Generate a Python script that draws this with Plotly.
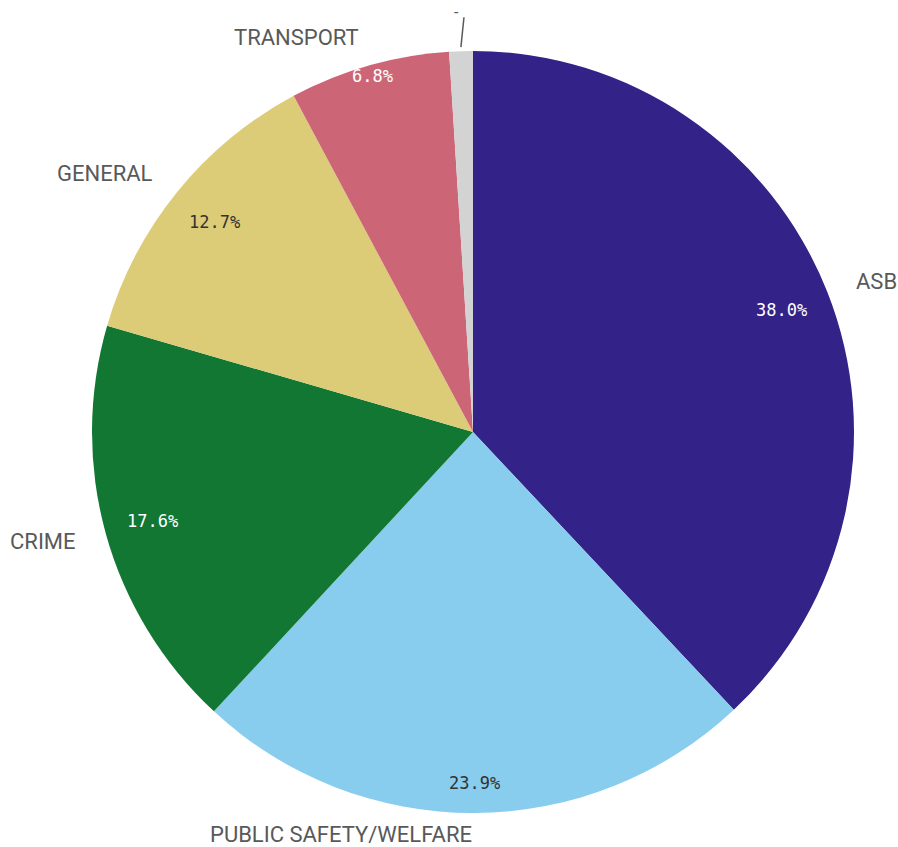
import math
import plotly.graph_objects as go

# ---- data ----
categories = ["ASB", "PUBLIC SAFETY/WELFARE", "CRIME", "GENERAL", "TRANSPORT", "-"]
values = [38.0, 23.9, 17.6, 12.7, 6.8, 1.0]

# ---- style ----
colors = ["#332288", "#88CCEE", "#117733", "#DDCC77", "#CC6677", "#D3D3D3"]
pct_colors = ["#FFFFFF", "#333333", "#FFFFFF", "#333333", "#FFFFFF", "#333333"]
pct_radius = [0.872, 0.92, 0.874, 0.873, 0.97, 0.9]
label_radius = [1.075, 1.057, 1.075, 1.075, 1.075, 1.12]

W, H = 898, 847
CX, CY, R = 473, 432, 381

fig = go.Figure()
fig.add_trace(go.Pie(
    labels=categories,
    values=values,
    sort=False,
    direction="clockwise",
    rotation=0,
    marker=dict(colors=colors, line=dict(width=0)),
    textinfo="none",
    hoverinfo="label+percent",
    showlegend=False,
    domain=dict(x=[(CX - R) / W, (CX + R) / W],
                y=[1 - (CY + R) / H, 1 - (CY - R) / H]),
))

total = sum(values)
annotations = []
shapes = []
cum = 0.0
for i, (cat, v) in enumerate(zip(categories, values)):
    mid = (cum + v / 2) / total * 2 * math.pi
    cum += v
    s, c = math.sin(mid), math.cos(mid)
    pct = v / total * 100
    if cat != "-":
        px = CX + pct_radius[i] * R * s
        py = CY - pct_radius[i] * R * c
        annotations.append(dict(
            x=px / W, y=1 - py / H, xref="paper", yref="paper",
            text=f"{pct:.1f}%", showarrow=False,
            font=dict(family="DejaVu Sans Mono", size=17, color=pct_colors[i]),
            xanchor="center", yanchor="middle"))
        lx = CX + label_radius[i] * R * s
        ly = CY - label_radius[i] * R * c
        annotations.append(dict(
            x=lx / W, y=1 - ly / H, xref="paper", yref="paper",
            text=cat, showarrow=False,
            font=dict(family="Roboto", size=22, color="#595959"),
            xanchor="left" if s > 0.05 else "right", yanchor="middle"))
    else:
        x0 = CX + (R + 4) * s
        y0 = CY - (R + 4) * c
        x1 = CX + (R + 34) * s + 4
        y1 = CY - (R + 34) * c
        shapes.append(dict(type="line", xref="paper", yref="paper",
                           x0=x0 / W, y0=1 - y0 / H, x1=x1 / W, y1=1 - y1 / H,
                           line=dict(color="#595959", width=1.5)))
        annotations.append(dict(
            x=(x1 - 7) / W, y=1 - (y1 - 5) / H, xref="paper", yref="paper",
            text=cat, showarrow=False,
            font=dict(family="Roboto", size=16, color="#595959"),
            xanchor="center", yanchor="middle"))

fig.update_layout(
    width=W, height=H,
    margin=dict(l=0, r=0, t=0, b=0),
    paper_bgcolor="white", plot_bgcolor="white",
    annotations=annotations, shapes=shapes,
)

fig.write_html("out.html", config={"displayModeBar": False},
               post_script="document.body.style.margin='0';")
